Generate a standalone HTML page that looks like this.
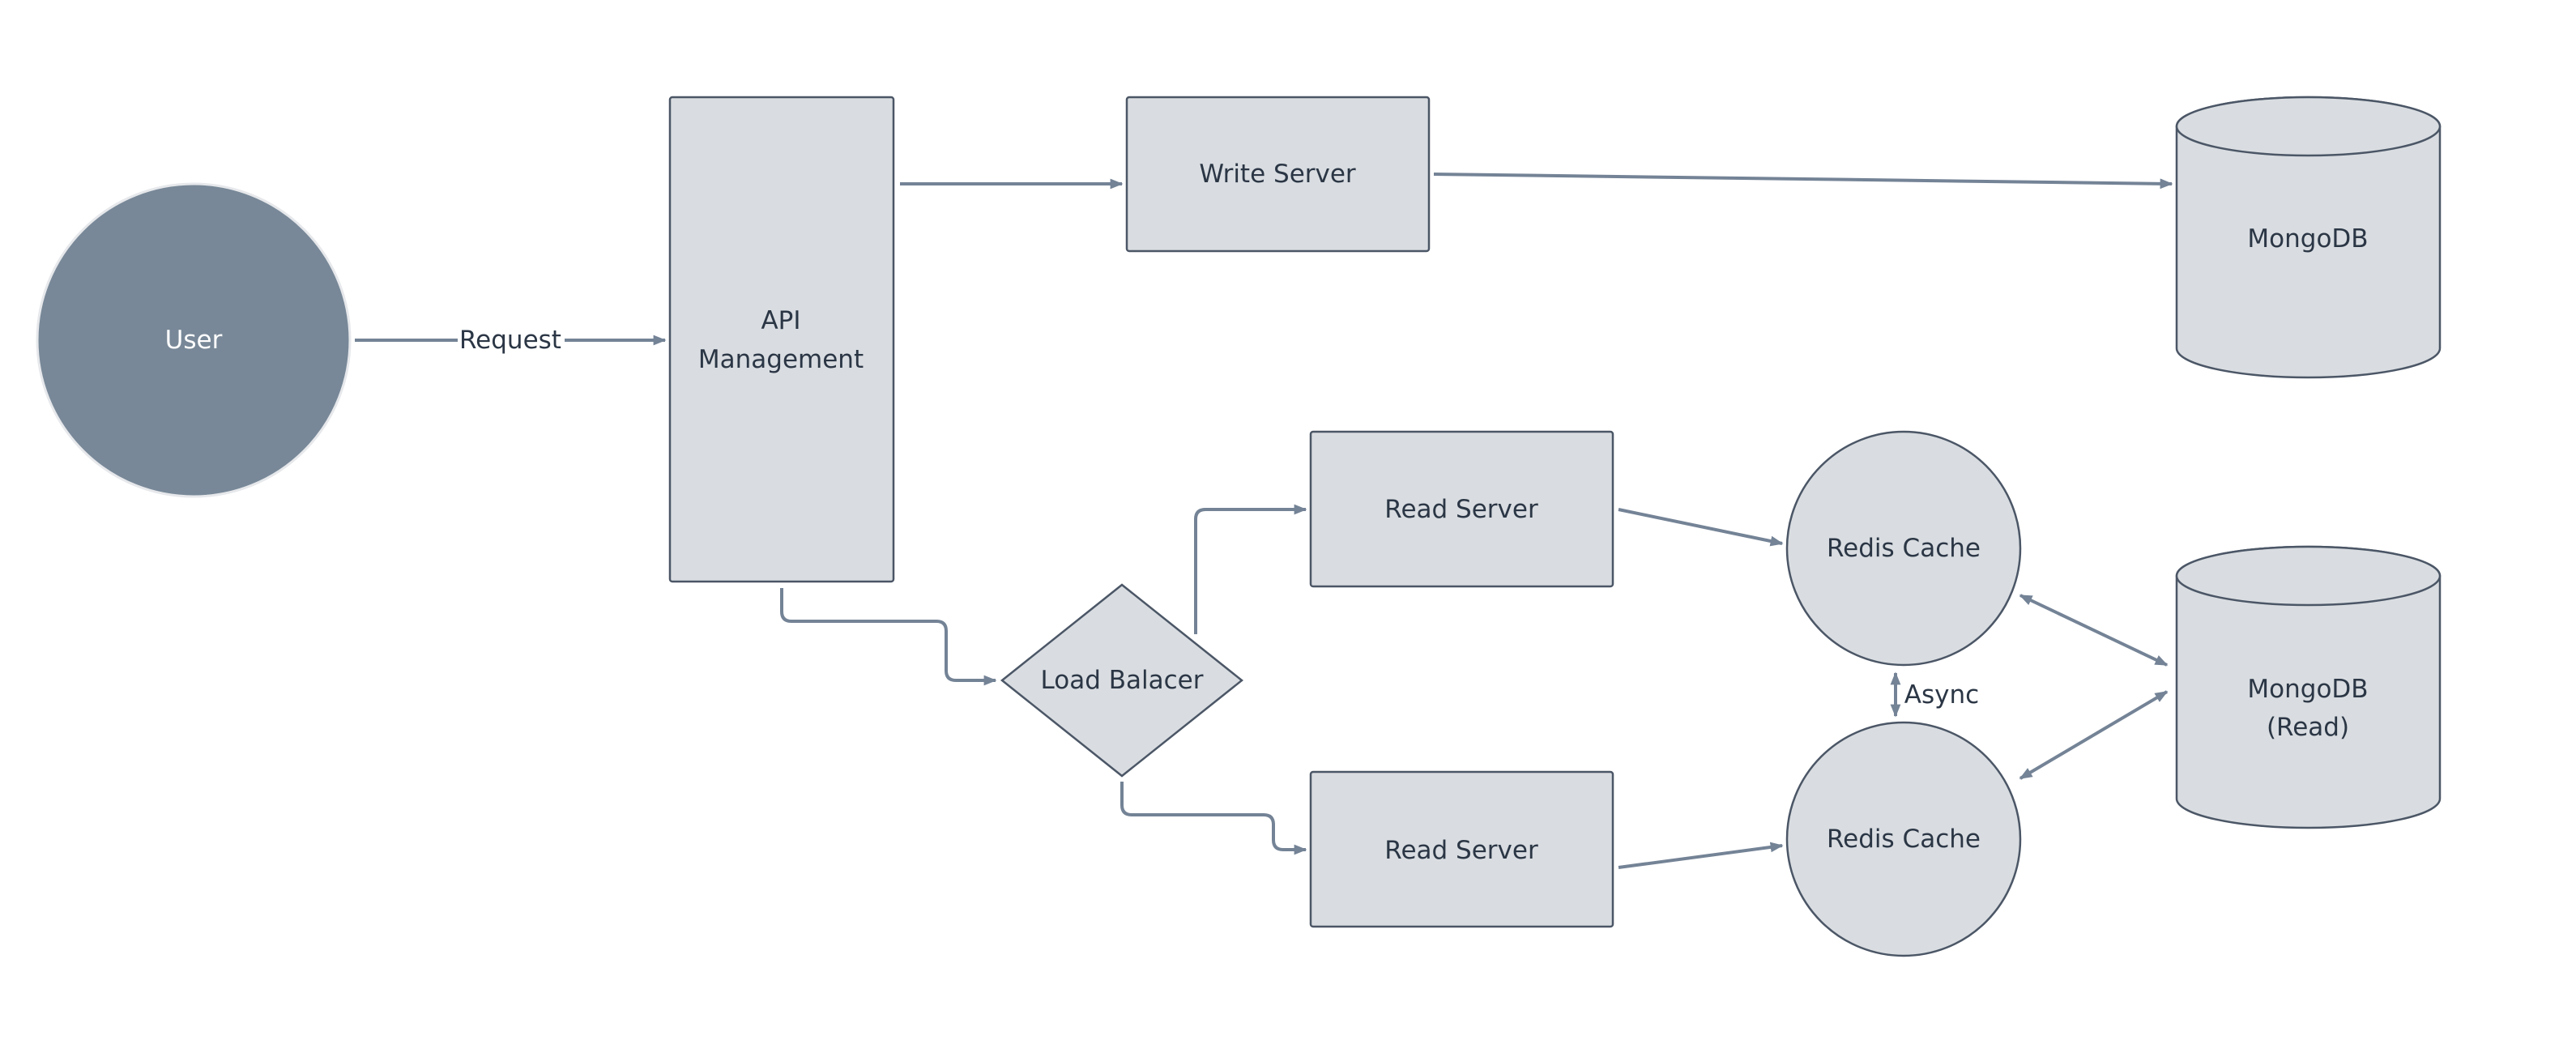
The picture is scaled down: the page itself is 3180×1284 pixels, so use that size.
<!DOCTYPE html>
<html><head><style>
html,body{margin:0;padding:0;background:#fff;}
svg{display:block;}
text{font-family:"DejaVu Sans","Liberation Sans",sans-serif;font-size:31px;fill:#2b3645;text-anchor:middle;dominant-baseline:central;}
.s{fill:#d9dde1;stroke:#4b5666;stroke-width:2.5;}
.c{fill:none;stroke:#748396;stroke-width:4;stroke-linejoin:round;}
</style></head><body>
<svg width="3180" height="1284" viewBox="0 0 3180 1284" xmlns="http://www.w3.org/2000/svg">
<defs>
<marker id="a" viewBox="0 0 10 10" refX="9" refY="5" markerWidth="4" markerHeight="4" orient="auto-start-reverse" markerUnits="strokeWidth">
<path d="M0,1 L10,5 L0,9 z" fill="#748396"/></marker>
</defs>
<!-- User -->
<circle cx="239" cy="420" r="193" fill="#788898" stroke="#e6e8eb" stroke-width="3"/>
<text x="239" y="420" style="fill:#fff">User</text>
<!-- API -->
<rect class="s" x="827" y="120" width="276" height="598" rx="3"/>
<text x="964" y="396">API</text><text x="964" y="444">Management</text>
<!-- Write server -->
<rect class="s" x="1391" y="120" width="373" height="190" rx="3"/>
<text x="1577" y="215">Write Server</text>
<!-- MongoDB -->
<path class="s" d="M2687,156 L2687,430 A162.5,36 0 0 0 3012,430 L3012,156 A162.5,36 0 0 0 2687,156 Z"/>
<ellipse class="s" cx="2849.5" cy="156" rx="162.5" ry="36"/>
<text x="2849" y="295">MongoDB</text>
<!-- Read servers -->
<rect class="s" x="1618" y="533" width="373" height="191" rx="3"/>
<text x="1804" y="629">Read Server</text>
<rect class="s" x="1618" y="953" width="373" height="191" rx="3"/>
<text x="1804" y="1050">Read Server</text>
<!-- LB -->
<path class="s" d="M1385,722 L1533,840 L1385,958 L1237,840 Z"/>
<text x="1385" y="840">Load Balacer</text>
<!-- Redis -->
<circle class="s" cx="2350" cy="677" r="144"/>
<text x="2350" y="677">Redis  Cache</text>
<circle class="s" cx="2350" cy="1036" r="144"/>
<text x="2350" y="1036">Redis  Cache</text>
<!-- Mongo read -->
<path class="s" d="M2687,711 L2687,986 A162.5,36 0 0 0 3012,986 L3012,711 A162.5,36 0 0 0 2687,711 Z"/>
<ellipse class="s" cx="2849.5" cy="711" rx="162.5" ry="36"/>
<text x="2849" y="851">MongoDB</text><text x="2849" y="898">(Read)</text>
<!-- connectors -->
<path class="c" d="M438,420 L565,420"/>
<path class="c" d="M697,420 L821,420" marker-end="url(#a)"/>
<text x="630" y="420">Request</text>
<path class="c" d="M1111,227 L1385,227" marker-end="url(#a)"/>
<path class="c" d="M1770,215 L2681,227" marker-end="url(#a)"/>
<path class="c" d="M965,726 L965,755 Q965,767 977,767 L1156,767 Q1168,767 1168,779 L1168,828 Q1168,840 1180,840 L1229,840" marker-end="url(#a)"/>
<path class="c" d="M1476,783 L1476,641 Q1476,629 1488,629 L1612,629" marker-end="url(#a)"/>
<path class="c" d="M1385,965 L1385,994 Q1385,1006 1397,1006 L1560,1006 Q1572,1006 1572,1018 L1572,1037 Q1572,1049 1584,1049 L1612,1049" marker-end="url(#a)"/>
<path class="c" d="M1998,629 L2200,671" marker-end="url(#a)"/>
<path class="c" d="M1998,1071 L2200,1044" marker-end="url(#a)"/>
<path class="c" d="M2494,735 L2675,821" marker-start="url(#a)" marker-end="url(#a)"/>
<path class="c" d="M2494,961 L2675,854" marker-start="url(#a)" marker-end="url(#a)"/>
<path class="c" d="M2340,831 L2340,884" marker-start="url(#a)" marker-end="url(#a)"/>
<text x="2397" y="858">Async</text>
</svg>
</body></html>
